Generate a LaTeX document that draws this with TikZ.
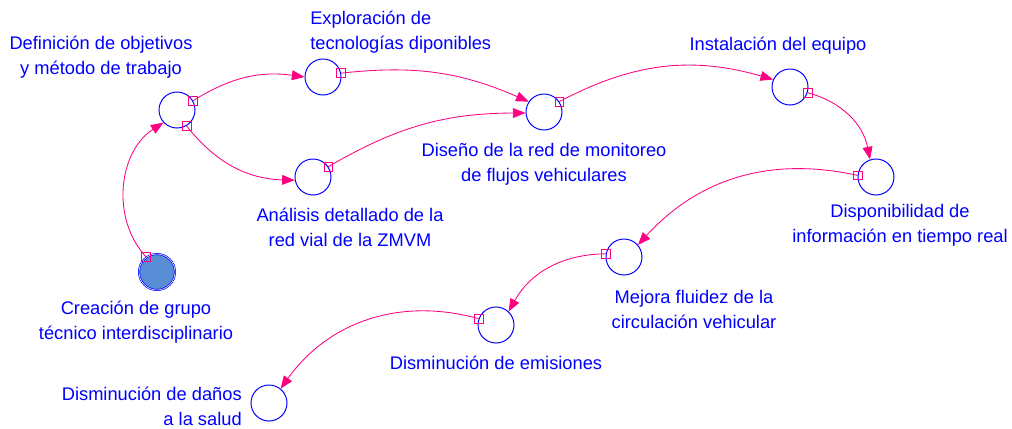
\documentclass[tikz,border=0pt]{standalone}
\usepackage{fontspec}
\setmainfont{Liberation Sans}
\usetikzlibrary{arrows.meta}
\definecolor{flowpink}{RGB}{255,0,128}
\definecolor{lvlblue}{RGB}{0,0,255}
\definecolor{stockfill}{RGB}{88,140,212}

\begin{document}
\begin{tikzpicture}[x=0.025cm, y=0.025cm,
    lvl/.style={circle, draw=lvlblue, line width=0.7pt, minimum size=0.9cm, inner sep=0pt},
    lbl/.style={text=lvlblue, font=\fontsize{13}{17.8}\selectfont, inner sep=0pt, align=center},
    flow/.style={draw=flowpink, line width=0.6pt, -{Triangle[length=9pt, width=7pt]}},
    valve/.style={draw=flowpink, line width=0.6pt, minimum size=0.22cm, inner sep=0pt}]
    \useasboundingbox (0,0) rectangle (1012,-428);

    % niveles
    \node[lvl, fill=stockfill, double=white, double distance=0.4pt, line width=0.5pt] (grupo) at (157,-272) {};
    \node[lvl] (obj) at (177,-110) {};
    \node[lvl] (expl) at (323,-77) {};
    \node[lvl] (anal) at (313,-177) {};
    \node[lvl] (diseno) at (544,-112) {};
    \node[lvl] (inst) at (790,-87) {};
    \node[lvl] (disp) at (876,-177) {};
    \node[lvl] (mejora) at (624,-257) {};
    \node[lvl] (emis) at (496,-325) {};
    \node[lvl] (salud) at (269,-403) {};

    % textos
    \node[lbl] (grupolbl) at (136,-322) {Creación de grupo\\técnico interdisciplinario};
    \node[lbl] (objlbl) at (101,-57) {Definición de objetivos\\y método de trabajo};
    \node[lbl, anchor=west, align=left] (expllbl) at (310,-32) {Exploración de\\tecnologías diponibles};
    \node[lbl] (anallbl) at (350,-227) {Análisis detallado de la\\red vial de la ZMVM};
    \node[lbl] (disenolbl) at (544,-164) {Diseño de la red de monitoreo\\de flujos vehiculares};
    \node[lbl] (instlbl) at (778,-46) {Instalación del equipo};
    \node[lbl] (displbl) at (900,-225) {Disponibilidad de\\información en tiempo real};
    \node[lbl] (mejoralbl) at (694,-309) {Mejora fluidez de la\\circulación vehicular};
    \node[lbl] (emislbl) at (496,-363) {Disminución de emisiones};
    \node[lbl, anchor=east, align=right] (saludlbl) at (242,-406) {Disminución de daños\\a la salud};

    % flujos
    \draw[flow] (grupo.126) to[bend left=50] (obj.223);
    \draw[flow] (obj.30) to[bend left=20] (expl.180);
    \draw[flow] (obj.-59) to[bend right=25] (anal.190);
    \draw[flow] (expl.12) to[bend left=15] (diseno.146);
    \draw[flow] (anal.34) to[bend left=15] (diseno.183);
    \draw[flow] (diseno.34) to[bend left=22] (inst.156);
    \draw[flow] (inst.-18) to[bend left=32] (disp.109);
    \draw[flow] (disp.175) to[bend right=30] (mejora.41);
    \draw[flow] (mejora.170) to[bend right=30] (emis.47);
    \draw[flow] (emis.160) to[bend right=35] (salud.51);

    \node[valve] (v1) at (grupo.126) {};
    \node[valve] (v2) at (obj.30) {};
    \node[valve] (v3) at (obj.-59) {};
    \node[valve] (v4) at (expl.12) {};
    \node[valve] (v5) at (anal.34) {};
    \node[valve] (v6) at (diseno.34) {};
    \node[valve] (v7) at (inst.-18) {};
    \node[valve] (v8) at (disp.175) {};
    \node[valve] (v9) at (mejora.170) {};
    \node[valve] (v10) at (emis.160) {};
\end{tikzpicture}
\end{document}
